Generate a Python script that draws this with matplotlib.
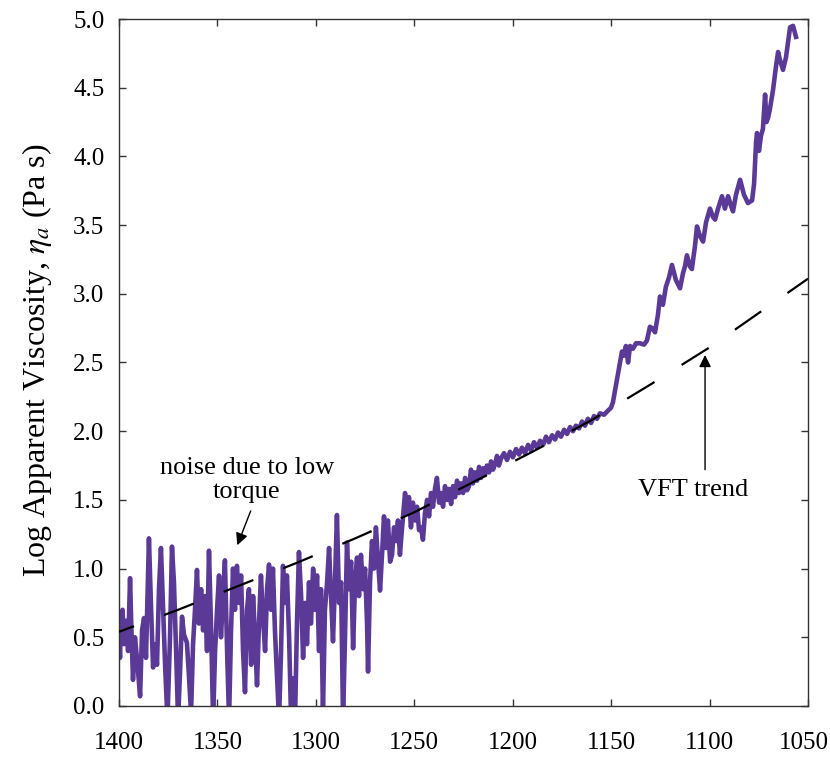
import matplotlib
matplotlib.use("Agg")
import matplotlib.pyplot as plt
from matplotlib.transforms import ScaledTranslation

plt.rcParams['font.family'] = ['Liberation Serif', 'DejaVu Serif']
plt.rcParams['mathtext.fontset'] = 'stix'

# ---- data ----
temp = [1400.0, 1399.5, 1399.0, 1398.2, 1397.5, 1396.4, 1395.4, 1394.4, 1393.7, 1392.9,
        1391.9, 1390.9, 1389.3, 1388.3, 1387.3, 1386.3, 1384.8, 1383.7, 1382.7, 1381.7,
        1380.7, 1379.7, 1378.7, 1377.6, 1376.6, 1375.4, 1374.1, 1373.1, 1372.1, 1371.0,
        1370.0, 1369.0, 1368.0, 1367.0, 1365.5, 1364.4, 1363.4, 1362.4, 1361.4, 1360.4,
        1359.4, 1358.3, 1357.3, 1356.3, 1355.3, 1354.3, 1353.3, 1352.2, 1351.2, 1350.2,
        1349.2, 1348.2, 1347.2, 1346.2, 1345.1, 1344.1, 1343.1, 1342.1, 1341.1, 1340.1,
        1339.0, 1338.0, 1337.0, 1336.0, 1335.0, 1334.0, 1332.9, 1331.9, 1330.9, 1329.9,
        1328.9, 1327.9, 1326.9, 1325.8, 1324.8, 1323.8, 1322.8, 1321.8, 1320.8, 1319.7,
        1318.7, 1317.7, 1316.7, 1315.7, 1314.7, 1313.6, 1312.6, 1311.6, 1310.6, 1309.6,
        1308.6, 1307.5, 1306.5, 1305.5, 1304.5, 1303.5, 1302.5, 1301.4, 1300.4, 1299.4,
        1298.4, 1297.4, 1296.4, 1295.4, 1294.3, 1293.3, 1292.3, 1291.3, 1290.3, 1289.3,
        1288.2, 1287.2, 1286.2, 1285.2, 1284.2, 1283.2, 1282.1, 1281.1, 1280.1, 1279.1,
        1278.1, 1277.1, 1276.0, 1275.0, 1274.0, 1273.5, 1272.5, 1271.5, 1270.5, 1269.5,
        1268.4, 1267.4, 1266.4, 1265.4, 1264.4, 1263.4, 1262.3, 1261.3, 1260.3, 1259.3,
        1258.3, 1257.3, 1256.2, 1254.7, 1253.7, 1252.7, 1251.7, 1250.7, 1249.6, 1248.6,
        1247.6, 1246.6, 1245.6, 1244.6, 1243.5, 1242.5, 1241.5, 1240.5, 1239.5, 1238.5,
        1237.4, 1236.4, 1235.4, 1234.4, 1233.4, 1232.4, 1231.3, 1230.3, 1229.3, 1228.3,
        1227.3, 1226.3, 1225.2, 1224.2, 1223.2, 1222.2, 1221.2, 1220.2, 1219.2, 1218.1,
        1217.1, 1216.1, 1215.1, 1214.1, 1213.1, 1212.0, 1211.0, 1210.0, 1209.0, 1208.0,
        1207.0, 1206.0, 1204.4, 1202.9, 1201.4, 1199.9, 1198.3, 1196.8, 1195.3, 1193.8,
        1192.2, 1190.7, 1189.2, 1187.7, 1186.1, 1184.6, 1183.1, 1181.6, 1180.0, 1178.5,
        1177.0, 1175.5, 1173.9, 1172.4, 1170.9, 1169.4, 1167.9, 1166.3, 1164.8, 1163.3,
        1161.8, 1160.2, 1158.7, 1157.2, 1155.7, 1153.6, 1151.6, 1150.1, 1149.1, 1148.0,
        1146.5, 1145.5, 1144.5, 1143.5, 1142.5, 1141.4, 1140.4, 1138.9, 1137.4, 1135.4,
        1133.3, 1131.8, 1130.3, 1129.2, 1127.7, 1126.2, 1125.2, 1123.7, 1122.2, 1120.6,
        1119.1, 1117.1, 1115.0, 1113.5, 1112.5, 1111.5, 1110.0, 1109.0, 1107.4, 1106.4,
        1104.9, 1103.3, 1101.8, 1099.8, 1098.3, 1097.2, 1095.7, 1093.7, 1092.2, 1090.6,
        1089.1, 1088.1, 1086.6, 1084.5, 1082.5, 1080.5, 1078.4, 1077.4, 1076.4, 1075.9,
        1074.9, 1073.9, 1072.9, 1071.8, 1071.1, 1070.3, 1069.3, 1067.8, 1066.3, 1065.2,
        1064.2, 1062.7, 1061.2, 1059.1, 1057.6, 1056.1]

log_visc = [0.55, 0.35, 0.65, 0.70, 0.45, 0.62, 0.40, 0.93, 0.55, 0.19,
            0.50, 0.35, 0.07, 0.55, 0.64, 0.35, 1.22, 0.70, 0.28, 0.45,
            0.30, 0.85, 1.15, 0.70, 0.30, -0.10, 0.50, 1.16, 0.90, 0.40,
            -0.10, 0.25, 0.65, 0.52, 0.46, 0.20, -0.05, 0.45, 0.70, 0.99,
            0.60, 0.85, 0.55, 0.80, 0.40, 1.13, 0.60, -0.10, 0.40, 0.70,
            0.95, 0.50, 0.80, 1.06, 0.40, -0.10, 0.55, 1.00, 0.70, 1.02,
            0.75, 0.95, 0.40, 0.10, 0.70, 0.85, 0.30, 0.80, 0.50, 0.15,
            0.60, 0.95, 0.65, 0.40, 0.85, 1.03, 0.70, 1.00, 0.55, 0.20,
            -0.10, 0.40, 1.02, 0.75, 0.95, 0.50, -0.10, 0.20, -0.10, 0.60,
            1.12, 0.80, 0.35, 0.75, 0.45, 0.90, 0.60, 1.00, 0.70, 0.95,
            0.40, 0.85, -0.05, 0.70, 0.90, 1.15, 0.80, 0.47, 0.90, 1.39,
            0.75, 0.90, -0.10, 0.50, 1.19, 0.85, 1.05, 0.42, 0.90, 1.08,
            0.80, 1.10, 0.85, 1.00, 0.60, 0.25, 0.90, 1.20, 1.00, 1.30,
            1.05, 0.84, 1.10, 1.38, 1.15, 1.35, 1.05, 1.10, 1.30, 1.20,
            1.35, 1.10, 1.30, 1.55, 1.40, 1.52, 1.30, 1.48, 1.35, 1.45,
            1.28, 1.30, 1.21, 1.40, 1.50, 1.38, 1.55, 1.45, 1.58, 1.66,
            1.48, 1.55, 1.45, 1.60, 1.50, 1.58, 1.47, 1.60, 1.52, 1.64,
            1.55, 1.62, 1.55, 1.66, 1.57, 1.60, 1.72, 1.62, 1.70, 1.64,
            1.74, 1.66, 1.73, 1.68, 1.75, 1.70, 1.78, 1.72, 1.76, 1.82,
            1.75, 1.80, 1.84, 1.79, 1.85, 1.81, 1.87, 1.83, 1.88, 1.84,
            1.90, 1.86, 1.92, 1.88, 1.93, 1.90, 1.96, 1.92, 1.97, 1.94,
            1.99, 1.96, 2.01, 1.98, 2.03, 2.00, 2.04, 2.02, 2.07, 2.04,
            2.09, 2.06, 2.11, 2.09, 2.13, 2.12, 2.15, 2.17, 2.21, 2.30,
            2.42, 2.50, 2.58, 2.55, 2.62, 2.50, 2.62, 2.60, 2.64, 2.64,
            2.63, 2.66, 2.76, 2.75, 2.72, 2.85, 2.98, 2.92, 3.05, 3.12,
            3.21, 3.10, 3.04, 3.15, 3.20, 3.28, 3.20, 3.18, 3.35, 3.49,
            3.42, 3.38, 3.52, 3.62, 3.56, 3.54, 3.62, 3.71, 3.62, 3.71,
            3.64, 3.60, 3.72, 3.83, 3.72, 3.66, 3.68, 3.80, 4.10, 4.17,
            4.04, 4.15, 4.20, 4.45, 4.25, 4.28, 4.35, 4.48, 4.65, 4.76,
            4.70, 4.63, 4.72, 4.94, 4.95, 4.87]

vft_temp = [1400, 1370, 1340, 1310, 1280, 1250, 1220, 1190, 1160, 1130, 1100, 1075, 1050]
vft_visc = [0.54, 0.70, 0.87, 1.04, 1.22, 1.41, 1.63, 1.85, 2.08, 2.34, 2.61, 2.86, 3.11]

xticks = [1400, 1350, 1300, 1250, 1200, 1150, 1100, 1050]
yticks = [0.0, 0.5, 1.0, 1.5, 2.0, 2.5, 3.0, 3.5, 4.0, 4.5, 5.0]

fig = plt.figure(figsize=(8.30, 7.57), dpi=100)
ax = fig.add_axes([0.1434, 0.0674, 0.8301, 0.9075])

ax.plot(temp, log_visc, color='#5a3a96', lw=3.3, solid_joinstyle='round', zorder=2)
ax.plot(vft_temp, vft_visc, color='black', lw=1.6, zorder=3,
        linestyle=(7.2, (14.4, 14.4)))

ax.set_xlim(1400, 1050)
ax.set_ylim(0, 5.0)
ax.set_xticks(xticks)
ax.set_xticklabels([f"{t:d}" for t in xticks])
ax.set_yticks(yticks)
ax.set_yticklabels([f"{v:.1f}" for v in yticks])

for s in ax.spines.values():
    s.set_linewidth(1.0)
    s.set_color('#333333')
ax.tick_params(axis='both', direction='in', top=True, right=True, length=5,
               width=1.0, color='#333333', labelsize=18)
ax.tick_params(axis='y', pad=10.5)
ax.tick_params(axis='x', pad=19)

# nudge the last x tick label slightly left so it stays inside the figure
last = ax.get_xticklabels()[-1]
last.set_transform(last.get_transform() + ScaledTranslation(-3 / 72, 0, fig.dpi_scale_trans))

ax.set_ylabel(r'Log Apparent Viscosity, $\eta_a$ (Pa s)', fontsize=23)
ax.yaxis.set_label_coords(-0.094, 0.504)

ax.text(1335.0, 1.645, 'noise due to low\ntorque', fontsize=19, ha='center',
        va='center', multialignment='center', linespacing=1.1)
ax.annotate('', xy=(1339.9, 1.17), xytext=(1333.1, 1.42),
            arrowprops=dict(arrowstyle='-|>', color='black', lw=1.0,
                            mutation_scale=18, shrinkA=0, shrinkB=0))
ax.text(1108.4, 1.572, 'VFT trend', fontsize=19, ha='center', va='center')
ax.annotate('', xy=(1102.3, 2.555), xytext=(1102.3, 1.72),
            arrowprops=dict(arrowstyle='-|>', color='black', lw=1.0,
                            mutation_scale=18, shrinkA=0, shrinkB=0))

fig.savefig('out.png', dpi=100)
